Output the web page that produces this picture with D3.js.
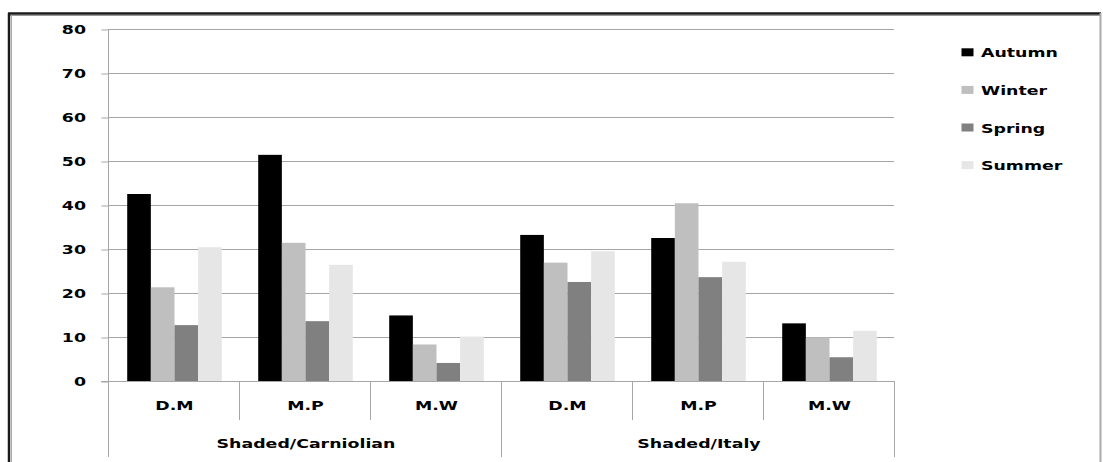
<!DOCTYPE html>
<html>
<head>
<meta charset="utf-8">
<script src="https://cdn.jsdelivr.net/npm/d3@7"></script>
<style>
  html, body { margin: 0; padding: 0; background: #fff; }
  svg { display: block; }
  text { font-family: "DejaVu Sans", Verdana, sans-serif; font-weight: bold; font-size: 12.5px; fill: #000; }
</style>
</head>
<body>
<svg id="chart" width="1103" height="462"></svg>
<script>
// Groups and sub-categories along the x axis
const groups = ["Shaded/Carniolian", "Shaded/Italy"];
const categories = ["D.M", "M.P", "M.W"];
const seasons = ["Autumn", "Winter", "Spring", "Summer"];
const seasonColors = ["#000000", "#bfbfbf", "#808080", "#e6e6e6"];
const yTicks = [0, 10, 20, 30, 40, 50, 60, 70, 80];

// Values per season, in order: Carniolian D.M, M.P, M.W, Italy D.M, M.P, M.W
const autumn = [42.5, 51.4, 14.9, 33.2, 32.5, 13.1];
const winter = [21.3, 31.4, 8.3, 26.9, 40.4, 9.9];
const spring = [12.7, 13.6, 4.1, 22.5, 23.6, 5.4];
const summer = [30.4, 26.4, 10.1, 29.5, 27.1, 11.4];
const seriesValues = [autumn, winter, spring, summer];

const SX = 1.39; // horizontal stretch of the lettering

const svg = d3.select("#chart");

const plot = { left: 108, right: 894, top: 29, bottom: 381 };
const catAxisBottom = 420, groupAxisBottom = 457;

// Flattened x domain: one slot per group/category pair
const slots = [];
groups.forEach(g => categories.forEach(c => slots.push({ group: g, cat: c, key: g + "|" + c })));

const x0 = d3.scaleBand().domain(slots.map(s => s.key)).range([plot.left, plot.right]).padding(0);
const x1 = d3.scaleBand().domain(seasons).range([1, x0.bandwidth() + 1]).paddingInner(0).paddingOuter(0.77);
const y = d3.scaleLinear().domain([0, 80]).range([plot.bottom, plot.top]);
const color = d3.scaleOrdinal().domain(seasons).range(seasonColors);

function place(sel, x, yy) {
  sel.attr("x", 0).attr("y", 0).attr("transform", `translate(${x},${yy}) scale(${SX},1)`);
}

// Frame around the chart
svg.append("line").attr("x1", 8).attr("x2", 1101).attr("y1", 13.5).attr("y2", 13.5)
  .attr("stroke", "#1a1a1a").attr("stroke-width", 2.5);
svg.append("line").attr("x1", 8).attr("x2", 1101).attr("y1", 15.5).attr("y2", 15.5)
  .attr("stroke", "#999").attr("stroke-width", 1);
svg.append("line").attr("x1", 9).attr("x2", 9).attr("y1", 13).attr("y2", 462)
  .attr("stroke", "#1a1a1a").attr("stroke-width", 2.5);
svg.append("line").attr("x1", 11.5).attr("x2", 11.5).attr("y1", 15).attr("y2", 462)
  .attr("stroke", "#aaa").attr("stroke-width", 1);
svg.append("line").attr("x1", 1100.5).attr("x2", 1100.5).attr("y1", 13).attr("y2", 462)
  .attr("stroke", "#aaa").attr("stroke-width", 2);

// Horizontal gridlines
svg.append("g").selectAll("line").data(yTicks.filter(d => d > 0)).join("line")
  .attr("x1", plot.left).attr("x2", plot.right)
  .attr("y1", d => Math.round(y(d)) + 0.5).attr("y2", d => Math.round(y(d)) + 0.5)
  .attr("stroke", "#a6a6a6").attr("stroke-width", 1);

// Bars
const barData = [];
seasons.forEach((s, si) => slots.forEach((slot, ci) => barData.push({ season: s, slot: slot.key, value: seriesValues[si][ci] })));
svg.append("g").selectAll("rect").data(barData).join("rect")
  .attr("x", d => x0(d.slot) + x1(d.season))
  .attr("width", x1.bandwidth())
  .attr("y", d => y(d.value))
  .attr("height", d => y(0) - y(d.value))
  .attr("fill", d => color(d.season));

// Y axis
const yAxis = svg.append("g").attr("transform", `translate(${plot.left + 0.5},0)`)
  .call(d3.axisLeft(y).tickValues(yTicks).tickSize(7).tickPadding(0));
yAxis.select(".domain").remove();
yAxis.selectAll(".tick line").attr("stroke", "#a6a6a6").attr("transform", "translate(0,0.5)");
yAxis.selectAll(".tick text").each(function () {
  d3.select(this).attr("text-anchor", "end").attr("dy", null);
  place(d3.select(this), -22.5, 4.3);
});
yAxis.selectAll(".tick text").attr("font-family", null).attr("font-size", null).attr("fill", null);
svg.append("line").attr("x1", plot.left + 0.5).attr("x2", plot.left + 0.5)
  .attr("y1", plot.top).attr("y2", groupAxisBottom).attr("stroke", "#a6a6a6");

// Category axis baseline
svg.append("line").attr("x1", plot.left - 7).attr("x2", plot.right)
  .attr("y1", Math.round(y(0)) + 0.5).attr("y2", Math.round(y(0)) + 0.5).attr("stroke", "#a6a6a6");

// Dividers between categories and groups
slots.forEach((slot, i) => {
  const xr = Math.round(x0(slot.key) + x0.bandwidth()) + 0.5;
  const isGroupEnd = (i + 1) % categories.length === 0;
  svg.append("line").attr("x1", xr).attr("x2", xr)
    .attr("y1", y(0)).attr("y2", isGroupEnd ? groupAxisBottom : catAxisBottom)
    .attr("stroke", "#a6a6a6");
});

// Category labels
svg.append("g").selectAll("text").data(slots).join("text")
  .attr("text-anchor", "middle").text(d => d.cat)
  .each(function (d) { place(d3.select(this), x0(d.key) + x0.bandwidth() / 2 + 1, 409.5); });

// Group labels
svg.append("g").selectAll("text").data(groups).join("text")
  .attr("text-anchor", "middle").text(d => d)
  .each(function (d) {
    const first = x0(d + "|" + categories[0]);
    const last = x0(d + "|" + categories[categories.length - 1]) + x0.bandwidth();
    place(d3.select(this), (first + last) / 2 + 1.5, 447.5);
  });

// Legend
const legend = svg.append("g");
seasons.forEach((s, i) => {
  const base = 57.3 + i * 37.6;
  legend.append("rect").attr("x", 961.5).attr("y", base - 9).attr("width", 12).attr("height", 8)
    .attr("fill", color(s));
  const t = legend.append("text").text(s);
  place(t, 981, base);
});
</script>
</body>
</html>
